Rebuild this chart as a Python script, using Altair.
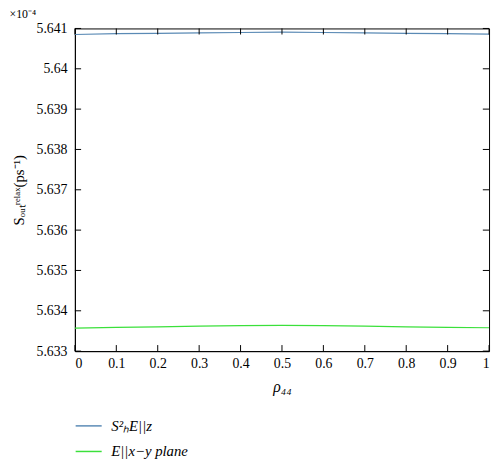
import altair as alt
import pandas as pd

rho = [0.0, 0.1, 0.2, 0.3, 0.4, 0.5, 0.6, 0.7, 0.8, 0.9, 1.0]
s_z = [5.64085, 5.64087, 5.64088, 5.64089, 5.64090, 5.64091, 5.64090, 5.64089, 5.64088, 5.64087, 5.64086]
s_xy = [5.63357, 5.63359, 5.63360, 5.63362, 5.63363, 5.63364, 5.63363, 5.63362, 5.63360, 5.63359, 5.63358]
series_names = ["S²ₕE||z", "E||x−y plane"]
series_colors = ["#5a8ab5", "#3be03b"]
x_ticks = [0.0, 0.1, 0.2, 0.3, 0.4, 0.5, 0.6, 0.7, 0.8, 0.9, 1.0]
y_ticks = [5.633, 5.634, 5.635, 5.636, 5.637, 5.638, 5.639, 5.640, 5.641]

rows = []
for name, vals in zip(series_names, [s_z, s_xy]):
    for x, y in zip(rho, vals):
        rows.append({"rho": x, "S": y, "series": name})
df = pd.DataFrame(rows)

FONT = "Liberation Serif"
xs = alt.Scale(domain=[0, 1], nice=False, zero=False)
ys = alt.Scale(domain=[5.633, 5.641], nice=False, zero=False)

lines = alt.Chart(df).mark_line(strokeWidth=1.2).encode(
    x=alt.X("rho:Q", scale=xs,
            axis=alt.Axis(values=x_ticks, format=".1f",
                          labelExpr="datum.value == 0 ? '0' : datum.value == 1 ? '1' : datum.label",
                          tickSize=0, labelPadding=6, grid=False, domainColor="black",
                          labelFont=FONT, labelFontSize=14, labelColor="black",
                          title="ρ₄₄", titleFont=FONT, titleFontStyle="italic", titleFontWeight="normal",
                          titleFontSize=16, titlePadding=8, titleColor="black")),
    y=alt.Y("S:Q", scale=ys,
            axis=alt.Axis(values=y_ticks, format=".3f",
                          labelExpr="abs(datum.value - 5.64) < 0.00001 ? '5.64' : datum.label",
                          tickSize=0, labelPadding=8, grid=False, domainColor="black",
                          labelFont=FONT, labelFontSize=14, labelColor="black",
                          title="Sₒᵤₜʳᵉˡᵃˣ(ps⁻¹)", titleFont=FONT, titleFontWeight="normal",
                          titleFontSize=15, titlePadding=10, titleColor="black")),
    color=alt.Color("series:N", sort=series_names,
                    scale=alt.Scale(domain=series_names, range=series_colors),
                    legend=alt.Legend(orient="none", legendX=0, legendY=390, title=None,
                                      symbolType="stroke", symbolSize=700, symbolStrokeWidth=1.5,
                                      labelFontSize=15, labelFont=FONT, labelColor="black",
                                      labelFontStyle="italic",
                                      rowPadding=4, labelOffset=9)),
)

xt = pd.DataFrame({"x": x_ticks})
yt = pd.DataFrame({"y": y_ticks})
dy = 0.00015
dx = 0.015
tick_bottom = alt.Chart(xt).mark_rule(color="black", strokeWidth=1).encode(
    x=alt.X("x:Q", scale=xs), y=alt.datum(5.633), y2=alt.datum(5.633 + dy))
tick_top = alt.Chart(xt).mark_rule(color="black", strokeWidth=1).encode(
    x=alt.X("x:Q", scale=xs), y=alt.datum(5.641), y2=alt.datum(5.641 - dy))
tick_left = alt.Chart(yt).mark_rule(color="black", strokeWidth=1).encode(
    y=alt.Y("y:Q", scale=ys), x=alt.datum(0.0), x2=alt.datum(dx))
tick_right = alt.Chart(yt).mark_rule(color="black", strokeWidth=1).encode(
    y=alt.Y("y:Q", scale=ys), x=alt.datum(1.0), x2=alt.datum(1.0 - dx))

chart = alt.layer(lines, tick_bottom, tick_top, tick_left, tick_right).properties(
    width=421, height=328,
    autosize=alt.AutoSizeParams(type="none"),
    padding={"left": 68, "top": 17, "right": 3, "bottom": 114},
    title=alt.TitleParams("×10⁻⁴", anchor="start", fontSize=12, font=FONT, color="black",
                          fontWeight="normal", offset=1, dx=-2),
).configure_view(stroke="black", strokeWidth=1)

chart.save("out.html", embed_options={"renderer": "svg", "actions": False})
